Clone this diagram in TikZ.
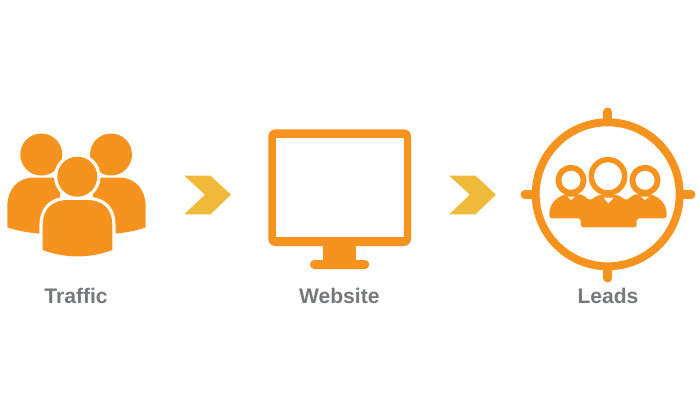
\documentclass[tikz,border=0pt]{standalone}
\usepackage{fontspec}
\setmainfont{Liberation Sans}
\definecolor{iconorange}{HTML}{F6921E}
\definecolor{chevyellow}{HTML}{EFB93A}
\definecolor{labelgrey}{HTML}{77787B}
\tikzset{icon/.style={fill=iconorange,draw=none}}
\tikzset{halo/.style={fill=white,draw=white,line width=3.7pt}}
\tikzset{ring/.style={draw=iconorange}}
\tikzset{tick/.style={draw=iconorange,line width=5.1pt,line cap=round}}
\tikzset{caption/.style={anchor=base,text=labelgrey,font=\fontsize{12}{14}\selectfont\bfseries}}
\begin{document}
\begin{tikzpicture}[x=0.02cm,y=-0.02cm]
        \useasboundingbox (0,0) rectangle (700,400);
        % traffic: two people behind, one in front
        \fill[icon] (41.3,154.5) circle (21);
        \fill[icon] (111,154.5) circle (21);
        \fill[icon] (7.3,227.3) -- (7.3,207) .. controls (7.3,189) and (18,177.5) .. (34,177.5) -- (60,177.5) -- (60,233.5) -- (38.3,233.5) .. controls (27,232.5) and (16,230.5) .. (7.3,227.3) -- cycle;
        \fill[icon] (145.7,227.3) -- (145.7,207) .. controls (145.7,189) and (135,177.5) .. (119,177.5) -- (93,177.5) -- (93,233.5) -- (116,233.5) .. controls (127,232.5) and (137,230.5) .. (145.7,227.3) -- cycle;
        \draw[halo] (77.3,176.7) circle (20);
        \draw[halo] (42.7,250) -- (42.7,225) .. controls (42.7,209) and (52,200) .. (68,200) -- (87,200) .. controls (103,200) and (112.3,209) .. (112.3,225) -- (112.3,250) .. controls (90,258.5) and (65,258.5) .. (42.7,250) -- cycle;
        \fill[icon] (77.3,176.7) circle (20);
        \fill[icon] (42.7,250) -- (42.7,225) .. controls (42.7,209) and (52,200) .. (68,200) -- (87,200) .. controls (103,200) and (112.3,209) .. (112.3,225) -- (112.3,250) .. controls (90,258.5) and (65,258.5) .. (42.7,250) -- cycle;
        % the two chevrons
        \foreach \cx in {184.3,449.3}
            \fill[chevyellow,shift={(\cx,0)}] (0,175.7) -- (26.2,175.7) -- (46.6,194.7) -- (26.2,214.3) -- (0,214.3) -- (20.6,194.7) -- cycle;
        % website: the monitor
        \fill[icon,rounded corners=4pt] (268.3,129.3) rectangle (411,246);
        \fill[white] (275.7,138.3) rectangle (403.7,237.3);
        \fill[icon] (323.3,246) rectangle (356,262);
        \fill[icon,rounded corners=2.5pt] (310,260) rectangle (369.3,269);
        % leads: the target
        \draw[ring,line width=4.5pt] (607.7,194.3) circle (72);
        \draw[tick] (607.7,112) -- (607.7,120);
        \draw[tick] (607.7,269) -- (607.7,278);
        \draw[tick] (525,194.3) -- (533,194.3);
        \draw[tick] (682,194.3) -- (691,194.3);
        % the three people inside it
        \fill[icon,rounded corners=1.5pt] (549.3,218.3) -- (549.3,214) .. controls (550,204) and (556,198) .. (565,194.3) -- (581.7,194.3) -- (590,200.5) -- (598,195) -- (618,195) -- (626.5,200.5) -- (634,194.3) -- (651,194.3) .. controls (660,198) and (666,204) .. (666.7,214) -- (666.7,218.3) -- (636.7,218.3) -- (636.7,227.3) -- (580.7,227.3) -- (580.7,218.3) -- cycle;
        \fill[white] (567.5,196.7) -- (575,196.7) -- (571,200) -- cycle;
        \fill[white] (641,196.7) -- (649,196.7) -- (645,200) -- cycle;
        \fill[white] (603.3,197.5) -- (614,197.5) -- (608.3,203.3) -- cycle;
        \draw[ring,line width=3.3pt,fill=white] (571,180.3) circle (12.6);
        \draw[ring,line width=3.3pt,fill=white] (645,180.3) circle (12.6);
        \draw[ring,line width=3.1pt,fill=white] (608,176.3) circle (16.7);
        % the labels
        \node[caption] (traffic) at (76,303) {Traffic};
        \node[caption] (website) at (339.3,303) {Website};
        \node[caption] (leads) at (608,303) {Leads};
\end{tikzpicture}
\end{document}
